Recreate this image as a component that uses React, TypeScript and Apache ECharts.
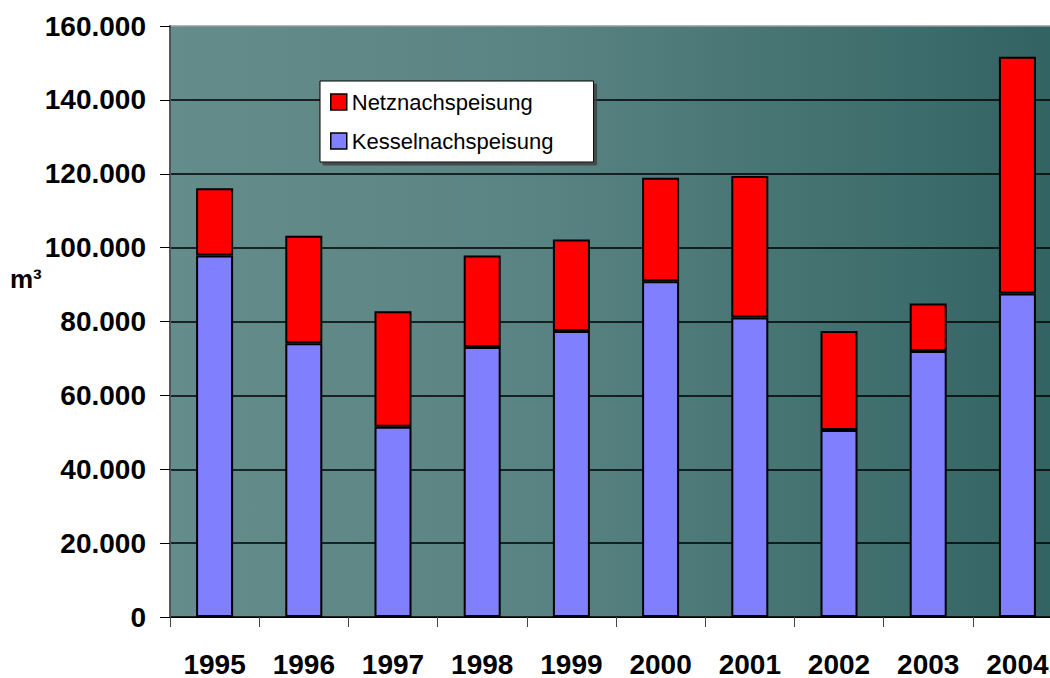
import React, { useEffect, useRef } from "react";
import * as echarts from "echarts";

const years = ["1995", "1996", "1997", "1998", "1999", "2000", "2001", "2002", "2003", "2004"];
const kessel = [97900, 74100, 51500, 73100, 77400, 90900, 81100, 50600, 72000, 87600];
const netz = [18200, 29100, 31300, 24800, 24800, 28000, 38300, 26800, 12900, 64100];
const yTicks = [0, 20000, 40000, 60000, 80000, 100000, 120000, 140000, 160000];

const FONT = "'Liberation Sans', Arial, sans-serif";

function fmt(v: number): string {
  if (v === 0) return "0";
  const s = String(Math.round(v));
  return s.replace(/\B(?=(\d{3})+(?!\d))/g, ".");
}

export default function App() {
  const ref = useRef<HTMLDivElement>(null);
  useEffect(() => {
    if (!ref.current) return;
    const chart = echarts.init(ref.current, null, { renderer: "svg" });
    const splitColors = yTicks.map((_, i) => (i === yTicks.length - 1 ? "#9a9a9a" : "#000000"));
    chart.setOption({
      animation: false,
      grid: {
        left: 170,
        top: 26,
        right: 0,
        bottom: 58,
        show: true,
        borderWidth: 0,
        backgroundColor: new echarts.graphic.LinearGradient(0, 0, 1, 0, [
          { offset: 0, color: "#648c8b" },
          { offset: 0.4, color: "#5a8483" },
          { offset: 1, color: "#316362" },
        ]),
      },
      legend: {
        data: ["Netznachspeisung", "Kesselnachspeisung"],
        orient: "vertical",
        left: 320,
        top: 81,
        padding: [10, 40, 10, 10],
        itemGap: 17,
        itemWidth: 16,
        itemHeight: 16,
        icon: "rect",
        backgroundColor: "#ffffff",
        borderColor: "#000000",
        borderWidth: 1,
        shadowColor: "rgba(60,60,60,0.8)",
        shadowOffsetX: 3,
        shadowOffsetY: 3,
        shadowBlur: 0,
        itemStyle: { borderColor: "#000", borderWidth: 1.5 },
        textStyle: { fontFamily: FONT, fontSize: 22, color: "#000" },
        selectedMode: false,
      },
      xAxis: {
        type: "category",
        data: years,
        boundaryGap: true,
        axisLine: { show: true, lineStyle: { color: "#000", width: 1 } },
        axisTick: { show: true, length: 10, lineStyle: { color: "#444", width: 1 } },
        axisLabel: {
          margin: 33,
          fontFamily: FONT,
          fontSize: 28,
          fontWeight: "bold",
          color: "#000",
        },
        splitLine: { show: false },
      },
      yAxis: {
        type: "value",
        min: 0,
        max: 160000,
        interval: 20000,
        axisLine: { show: true, lineStyle: { color: "#555", width: 2 } },
        axisTick: { show: true, length: 10, lineStyle: { color: "#000", width: 1 } },
        axisLabel: {
          margin: 24,
          fontFamily: FONT,
          fontSize: 28,
          fontWeight: "bold",
          color: "#000",
          formatter: (v: number) => fmt(v),
        },
        splitLine: { show: true, lineStyle: { color: splitColors, width: 1.5 } },
      },
      graphic: [
        {
          type: "text",
          left: 10,
          top: 266,
          style: {
            text: "m³",
            fontFamily: FONT,
            fontSize: 26,
            fontWeight: "bold",
            fill: "#000",
          },
        },
      ],
      series: [
        {
          name: "Kesselnachspeisung",
          type: "bar",
          stack: "total",
          data: kessel,
          barWidth: 37,
          itemStyle: { color: "#8080ff", borderColor: "#000", borderWidth: 2 },
        },
        {
          name: "Netznachspeisung",
          type: "bar",
          stack: "total",
          data: netz,
          barWidth: 37,
          itemStyle: { color: "#ff0000", borderColor: "#000", borderWidth: 2 },
        },
      ],
    });
    return () => chart.dispose();
  }, []);
  return (
    <div
      ref={ref}
      style={{ position: "fixed", left: 0, top: 0, width: 1062, height: 678, background: "#fff" }}
    />
  );
}
